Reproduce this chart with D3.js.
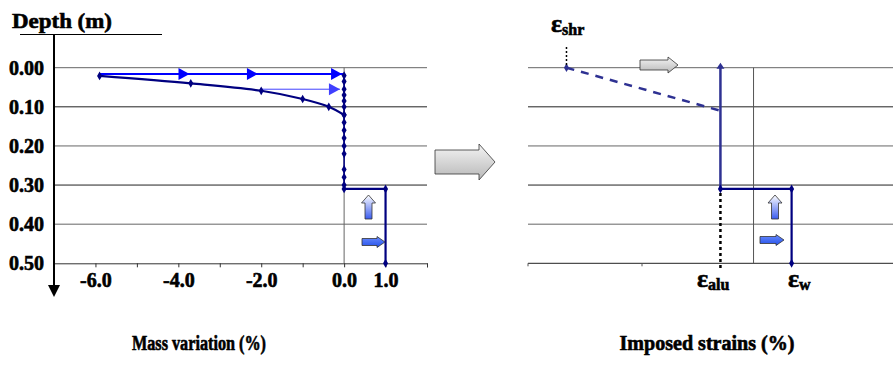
<!DOCTYPE html>
<html>
<head>
<meta charset="utf-8">
<script src="https://cdn.jsdelivr.net/npm/d3@7"></script>
<style>
  body { margin: 0; background: #fff; }
  svg text { font-family: "Liberation Serif", "Times New Roman", serif !important; font-weight: bold; fill: #000; stroke: #000; stroke-width: 0.6px; }
</style>
</head>
<body>
<div id="chart"></div>
<script>
// ---- data ----
var depthTicks = [0.00, 0.10, 0.20, 0.30, 0.40, 0.50];
var massTicks = [-7, -6, -5, -4, -3, -2, -1, 0, 1, 2];
var massTickLabels = { "-6": "-6.0", "-4": "-4.0", "-2": "-2.0", "0": "0.0", "1": "1.0" };

// drying profile (mass variation vs depth)
var curveMass = [-5.9, -3.7, -2.0, -1.0, -0.37, 0.0];
var curveDepth = [0.021, 0.040, 0.059, 0.080, 0.100, 0.121];

// points sitting on zero mass variation
var zeroDepth = [0.02, 0.035, 0.055, 0.07, 0.085, 0.10, 0.12, 0.14, 0.16, 0.18, 0.20, 0.22, 0.26, 0.28, 0.30, 0.31];

// wetted aluminium zone
var stepMass = [0.0, 1.0, 1.0];
var stepDepth = [0.31, 0.31, 0.50];

// blue arrows: [from, to, depth, heads]
var blueArrows = [
  { x0: -5.9, x1: 0.0, d: 0.016, heads: [-3.73, -2.08, -0.05], color: "#0000ff", w: 2 },
  { x0: -2.0, x1: -0.1, d: 0.055, heads: [-0.1], color: "#4040ff", w: 1 }
];

// imposed strains (right chart)
var epsShr = -4.52, epsAlu = -0.8, epsW = 0.92;
var shrinkDepth = [0.0, 0.11];
var aluDepth = [0.0, 0.31];
var wetDepth = [0.31, 0.31, 0.50];

var W = 893, H = 374;
var svg = d3.select("#chart").append("svg").attr("width", W).attr("height", H);

var defs = svg.append("defs");
var g1 = defs.append("linearGradient").attr("id", "grayGrad").attr("x1", 0).attr("y1", 0).attr("x2", 0).attr("y2", 1);
g1.append("stop").attr("offset", "0%").attr("stop-color", "#f4f4f4");
g1.append("stop").attr("offset", "100%").attr("stop-color", "#b8b8b8");
var g2 = defs.append("linearGradient").attr("id", "upGrad").attr("x1", 0).attr("y1", 0).attr("x2", 0).attr("y2", 1);
g2.append("stop").attr("offset", "0%").attr("stop-color", "#ffffff");
g2.append("stop").attr("offset", "100%").attr("stop-color", "#3a5cf0");
var g3 = defs.append("linearGradient").attr("id", "rightGrad").attr("x1", 0).attr("y1", 0).attr("x2", 0).attr("y2", 1);
g3.append("stop").attr("offset", "0%").attr("stop-color", "#6a8cff");
g3.append("stop").attr("offset", "100%").attr("stop-color", "#2450e8");

var y = d3.scaleLinear().domain([0, 0.5]).range([67.7, 263.3]);
var xL = d3.scaleLinear().domain([-7, 2]).range([54, 427]);
var xR = d3.scaleLinear().domain([-5.45, 3.37]).range([528, 893]);

var diamond = d3.symbol().type(d3.symbolDiamond).size(22);

// ---------- left chart ----------
var left = svg.append("g");

// gridlines
left.selectAll(".gridL").data(depthTicks.slice(0, 5)).enter().append("line")
  .attr("x1", xL(-7)).attr("x2", xL(2))
  .attr("y1", function(d) { return y(d); }).attr("y2", function(d) { return y(d); })
  .attr("stroke", function(d, i) { return i % 2 ? "#222" : "#666"; }).attr("stroke-width", 1);

// zero line
left.append("line").attr("x1", xL(0)).attr("x2", xL(0)).attr("y1", y(0)).attr("y2", y(0.5))
  .attr("stroke", "#666").attr("stroke-width", 1);

// x axis on bottom
var xAxis = d3.axisBottom(xL).tickValues(massTicks).tickSize(4).tickPadding(6)
  .tickFormat(function(d) { return massTickLabels[d] || ""; });
var xa = left.append("g").attr("transform", "translate(0," + y(0.5) + ")").call(xAxis);
xa.select(".domain").attr("stroke", "#333");
xa.selectAll(".tick line").attr("stroke", "#333");
xa.selectAll("text").attr("font-size", 20);

// y axis
var yAxis = d3.axisLeft(y).tickValues(depthTicks).tickSize(0).tickPadding(10)
  .tickFormat(d3.format(".2f"));
var ya = left.append("g").attr("transform", "translate(" + xL(-7) + ",0)").call(yAxis);
ya.select(".domain").remove();
ya.selectAll("text").attr("font-size", 20);
left.append("line").attr("x1", 54).attr("x2", 54).attr("y1", 35).attr("y2", 287)
  .attr("stroke", "#000").attr("stroke-width", 2);
left.append("path").attr("d", "M48,285 L60,285 L54,297 Z").attr("fill", "#000");
left.append("line").attr("x1", 20).attr("x2", 162).attr("y1", 34.5).attr("y2", 34.5)
  .attr("stroke", "#000").attr("stroke-width", 1.2);
left.append("text").attr("x", 12).attr("y", 28).attr("font-size", 21)
  .attr("textLength", 100).attr("lengthAdjust", "spacingAndGlyphs").text("Depth (m)");

// blue arrows
blueArrows.forEach(function(a) {
  left.append("line").attr("x1", xL(a.x0)).attr("x2", xL(a.x1))
    .attr("y1", y(a.d)).attr("y2", y(a.d)).attr("stroke", a.color).attr("stroke-width", a.w);
  a.heads.forEach(function(h) {
    var tx = xL(h), ty = y(a.d);
    left.append("path").attr("d", "M" + (tx - 11) + "," + (ty - 6) + " L" + tx + "," + ty + " L" + (tx - 11) + "," + (ty + 6) + " Z")
      .attr("fill", a.color);
  });
});

var navy = "#000080";
var curvePts = curveMass.map(function(m, i) { return [m, curveDepth[i]]; });
var line = d3.line().x(function(d) { return xL(d[0]); }).y(function(d) { return y(d[1]); });
left.append("path").datum(curvePts).attr("d", line.curve(d3.curveCatmullRom))
  .attr("fill", "none").attr("stroke", navy).attr("stroke-width", 2.2);
var zeroPts = zeroDepth.map(function(d) { return [0, d]; });
left.append("path").datum(zeroPts).attr("d", d3.line().x(function(d) { return xL(d[0]); }).y(function(d) { return y(d[1]); }))
  .attr("fill", "none").attr("stroke", navy).attr("stroke-width", 1.5);
var stepPts = stepMass.map(function(m, i) { return [m, stepDepth[i]]; });
left.append("path").datum(stepPts).attr("d", d3.line().x(function(d) { return xL(d[0]); }).y(function(d) { return y(d[1]); }))
  .attr("fill", "none").attr("stroke", navy).attr("stroke-width", 2.2);

left.selectAll(".mk").data(curvePts.concat(zeroPts).concat(stepPts.slice(1))).enter().append("path")
  .attr("d", diamond).attr("transform", function(d) { return "translate(" + xL(d[0]) + "," + y(d[1]) + ")"; })
  .attr("fill", navy);

// small arrows helper
function upArrow(g, cx, top, bottom) {
  g.append("path").attr("d",
    "M" + cx + "," + top + " L" + (cx + 7) + "," + (top + 8) + " L" + (cx + 3.5) + "," + (top + 8) +
    " L" + (cx + 3.5) + "," + bottom + " L" + (cx - 3.5) + "," + bottom + " L" + (cx - 3.5) + "," + (top + 8) +
    " L" + (cx - 7) + "," + (top + 8) + " Z")
    .attr("fill", "url(#upGrad)").attr("stroke", "#333").attr("stroke-width", 0.8);
}
function rightArrow(g, x0, x1, cy, fill, bodyH, headH, headL) {
  g.append("path").attr("d",
    "M" + x0 + "," + (cy - bodyH / 2) + " L" + (x1 - headL) + "," + (cy - bodyH / 2) + " L" + (x1 - headL) + "," + (cy - headH / 2) +
    " L" + x1 + "," + cy + " L" + (x1 - headL) + "," + (cy + headH / 2) + " L" + (x1 - headL) + "," + (cy + bodyH / 2) +
    " L" + x0 + "," + (cy + bodyH / 2) + " Z")
    .attr("fill", fill).attr("stroke", "#333").attr("stroke-width", 0.8);
}
upArrow(left, 368.5, 195, 219);
rightArrow(left, 362, 385, 242, "url(#rightGrad)", 7, 11, 8);

// big transition arrow
rightArrow(svg, 435, 495, 162, "url(#grayGrad)", 24, 36, 16);

// ---------- right chart ----------
var right = svg.append("g");
right.selectAll(".gridR").data(depthTicks).enter().append("line")
  .attr("x1", 528).attr("x2", 893)
  .attr("y1", function(d) { return y(d); }).attr("y2", function(d) { return y(d); })
  .attr("stroke", function(d, i) { return i % 2 ? "#222" : "#666"; }).attr("stroke-width", 1);
right.append("line").attr("x1", xR(0)).attr("x2", xR(0)).attr("y1", y(0)).attr("y2", y(0.5))
  .attr("stroke", "#555").attr("stroke-width", 1);
[528, 642].forEach(function(px) {
  right.append("line").attr("x1", px).attr("x2", px).attr("y1", y(0.5)).attr("y2", y(0.5) + 3)
    .attr("stroke", "#555");
});

var lineR = d3.line().x(function(d) { return xR(d[0]); }).y(function(d) { return y(d[1]); });
var midBlue = "#2e3192";

// shrinkage (dashed)
right.append("path").datum([[epsShr, shrinkDepth[0]], [epsAlu, shrinkDepth[1]]]).attr("d", lineR)
  .attr("fill", "none").attr("stroke", midBlue).attr("stroke-width", 2.5).attr("stroke-dasharray", "8,7");
right.append("path").attr("d", diamond).attr("transform", "translate(" + xR(epsShr) + "," + y(0) + ")").attr("fill", midBlue);

// aluminium strain
right.append("path").datum([[epsAlu, aluDepth[0]], [epsAlu, aluDepth[1]]]).attr("d", lineR)
  .attr("fill", "none").attr("stroke", midBlue).attr("stroke-width", 2.5);
right.append("path").attr("d", "M" + (xR(epsAlu) - 4) + "," + (y(0) + 1) + " L" + xR(epsAlu) + "," + (y(0) - 5) + " L" + (xR(epsAlu) + 4) + "," + (y(0) + 1) + " Z")
  .attr("fill", midBlue);

// wetting step
var wetPts = [[epsAlu, wetDepth[0]], [epsW, wetDepth[1]], [epsW, wetDepth[2]]];
right.append("path").datum(wetPts).attr("d", lineR)
  .attr("fill", "none").attr("stroke", navy).attr("stroke-width", 2.2);
right.selectAll(".mkR").data(wetPts).enter().append("path")
  .attr("d", diamond).attr("transform", function(d) { return "translate(" + xR(d[0]) + "," + y(d[1]) + ")"; })
  .attr("fill", navy);

// dotted leaders
right.append("line").attr("x1", xR(epsAlu)).attr("x2", xR(epsAlu)).attr("y1", y(0.31) + 4).attr("y2", 271)
  .attr("stroke", "#000").attr("stroke-width", 2.5).attr("stroke-dasharray", "3,3");
right.append("line").attr("x1", xR(epsShr)).attr("x2", xR(epsShr)).attr("y1", 47).attr("y2", 65)
  .attr("stroke", "#000").attr("stroke-width", 1.5).attr("stroke-dasharray", "2,2");

upArrow(right, 775, 195, 219);
rightArrow(right, 760, 784, 240, "url(#rightGrad)", 7, 11, 8);
rightArrow(right, 640, 678, 65, "url(#grayGrad)", 10, 16, 10);

// epsilon labels
function epsLabel(x, yb, sub) {
  var t = right.append("text").attr("x", x).attr("y", yb);
  t.append("tspan").attr("font-size", 26).text("ε");
  t.append("tspan").attr("font-size", 16).attr("dy", 3).text(sub);
}
epsLabel(551, 32, "shr");
epsLabel(697, 287, "alu");
epsLabel(788, 287, "w");

// bottom titles
svg.append("text").attr("x", 199).attr("y", 350).attr("text-anchor", "middle").attr("font-size", 20)
  .attr("textLength", 134).attr("lengthAdjust", "spacingAndGlyphs").text("Mass variation (%)");
svg.append("text").attr("x", 707).attr("y", 350).attr("text-anchor", "middle").attr("font-size", 20)
  .attr("textLength", 175).attr("lengthAdjust", "spacingAndGlyphs").text("Imposed strains (%)");
</script>
</body>
</html>
